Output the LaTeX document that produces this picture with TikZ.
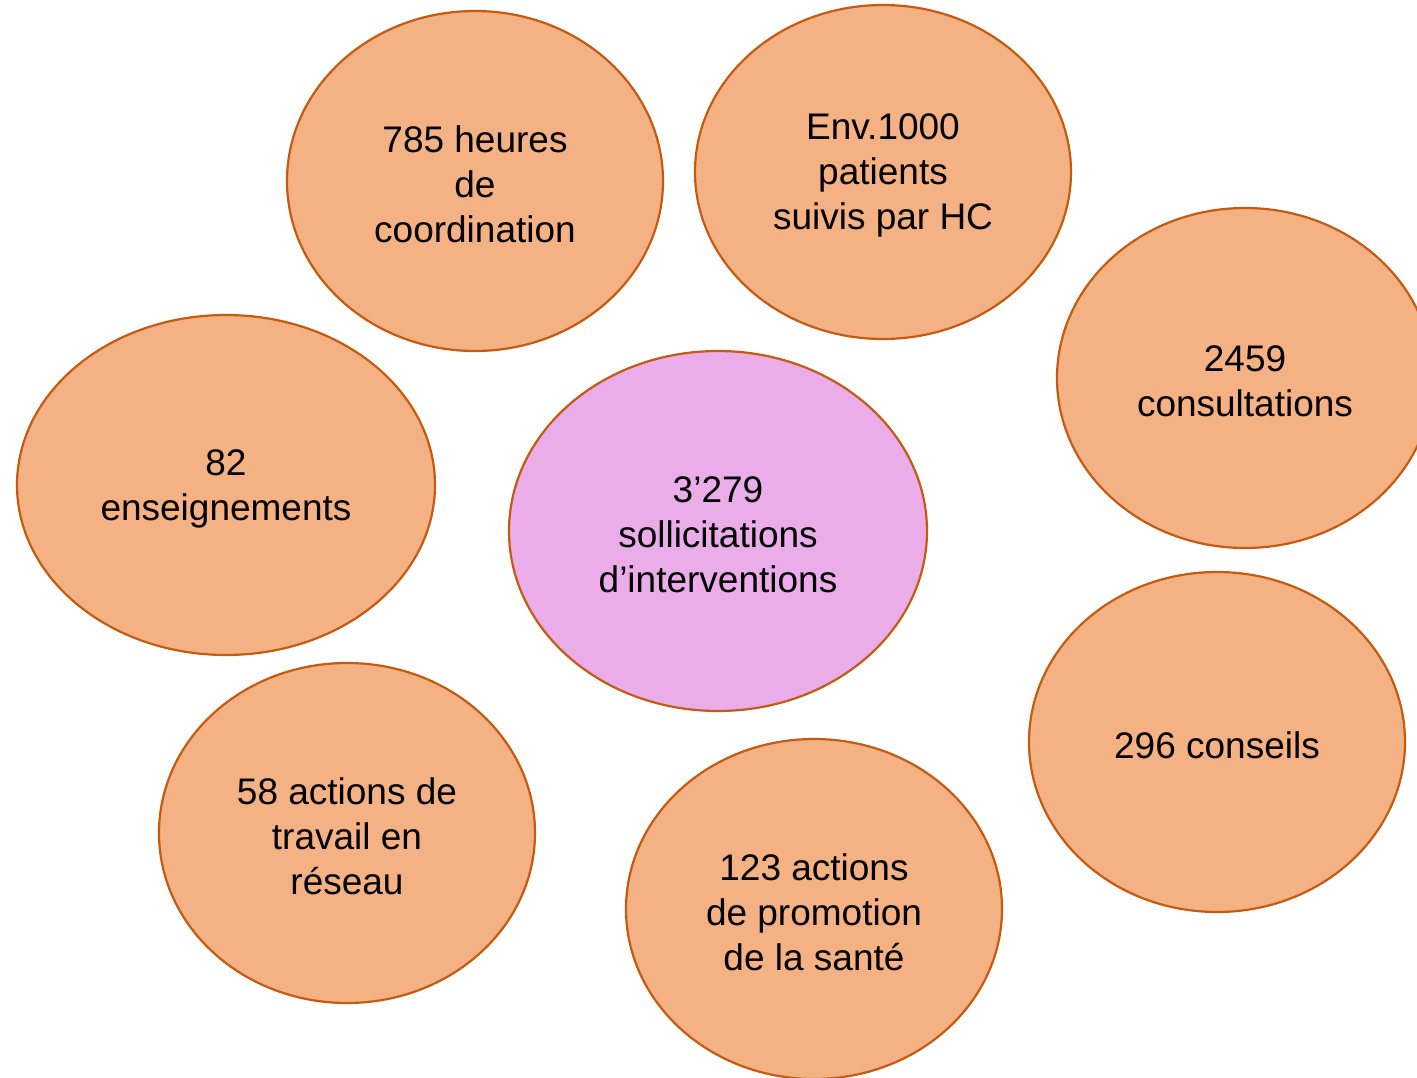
\documentclass[tikz,border=0pt]{standalone}
\usepackage{fontspec}
\setmainfont{Liberation Sans}
\usetikzlibrary{shapes.geometric}
\definecolor{peche}{HTML}{F4B183}
\definecolor{rouille}{HTML}{C55A11}
\definecolor{mauve}{HTML}{EAADEA}
% strut on the first line, pushes the text block a little down
\newcommand{\haut}{\rule{0pt}{33pt}}

\begin{document}
\begin{tikzpicture}[x=1pt,y=-1pt]
\tikzstyle{every node}+=[inner sep=0pt]
\tikzstyle{bulle}=[ellipse, draw=rouille, line width=2.2pt, fill=peche, align=center,
  font=\fontsize{37}{45}\selectfont, minimum width=376pt, minimum height=340pt]
\useasboundingbox (0,0) rectangle (1417,1077);
\clip (0,0) rectangle (1417,1077);
\node [bulle] (coord) at (475,181) {\haut 785 heures\\de\\coordination};
\node [bulle, minimum height=334pt] (patients) at (883,172) {\haut Env.1000\\patients\\suivis par HC};
\node [bulle] (consult) at (1245,378) {\haut 2459\\consultations};
\node [bulle, minimum width=418pt] (enseign) at (226,485) {\haut 82\\enseignements};
\node [bulle, fill=mauve, minimum width=418pt, minimum height=360pt] (sollic) at (718,531) {\haut 3'279\\sollicitations\\d'interventions};
\node [bulle] (conseils) at (1217,742) {\haut 296 conseils};
\node [bulle] (reseau) at (347,833) {\haut 58 actions de\\travail en\\réseau};
\node [bulle] (promo) at (814,909) {\haut 123 actions\\de promotion\\de la santé};
\end{tikzpicture}
\end{document}
